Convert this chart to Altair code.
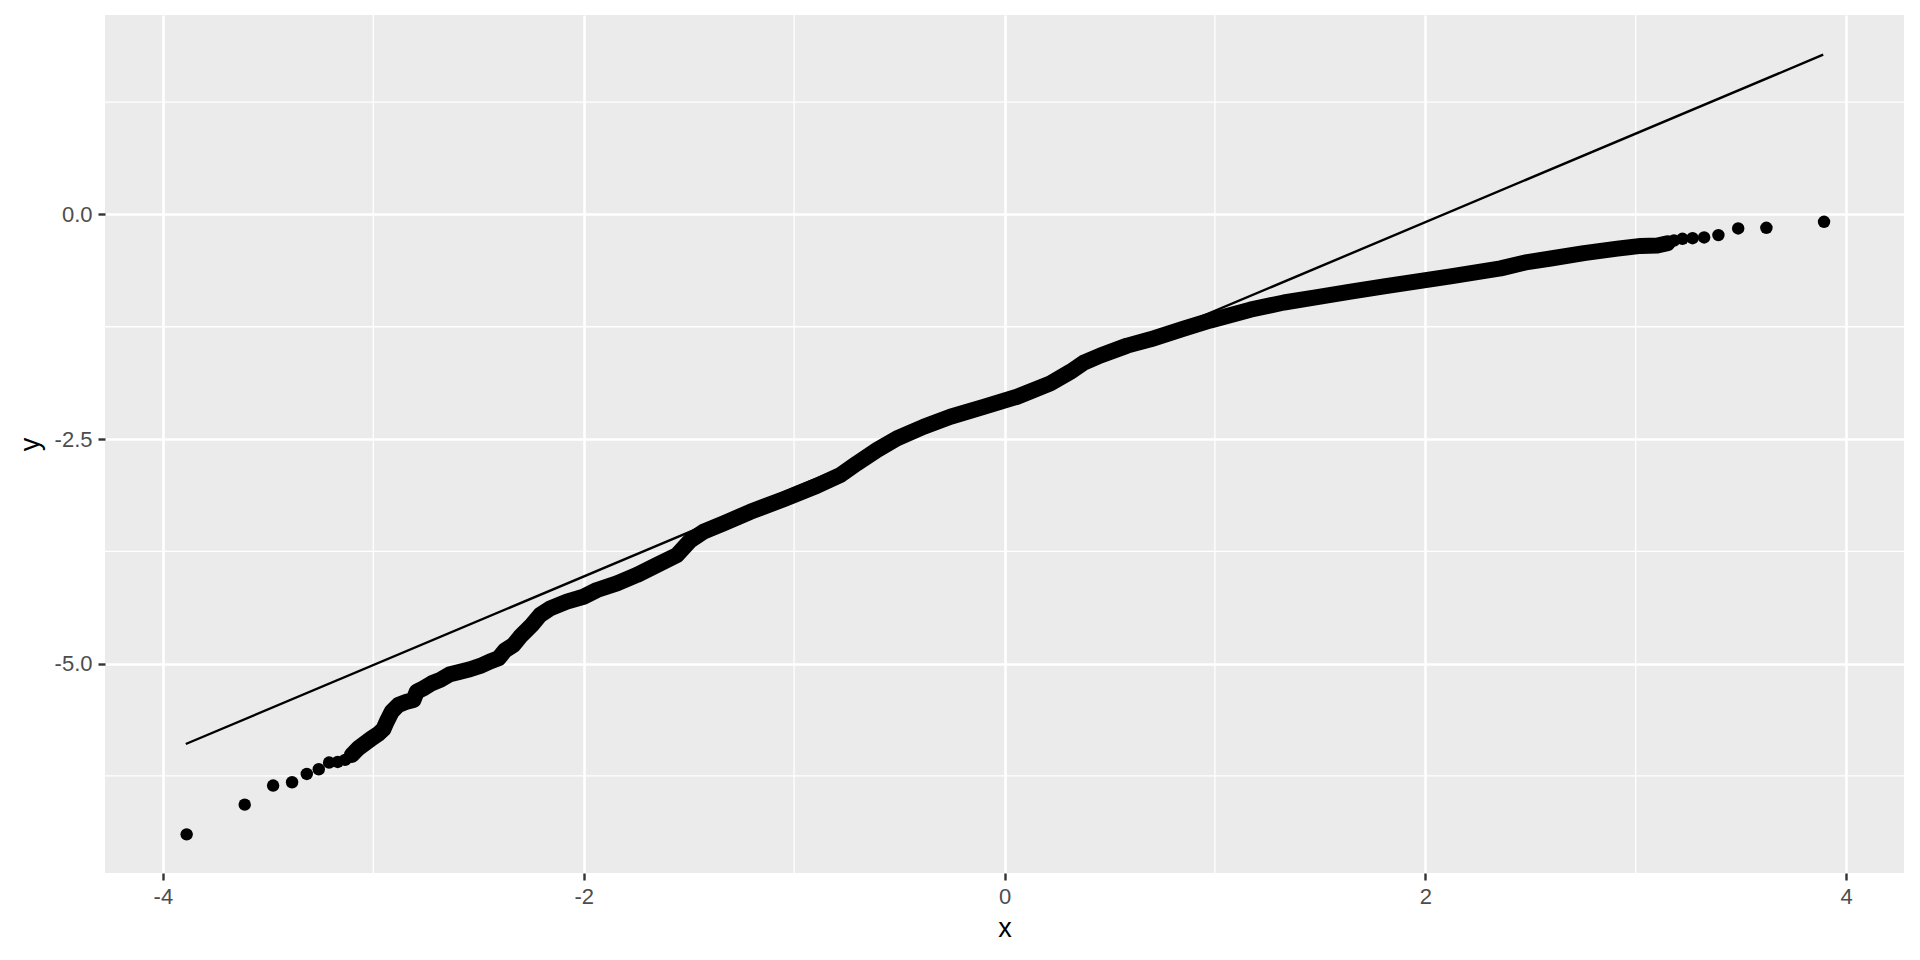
import altair as alt
import pandas as pd

# Sample quantiles (y) against theoretical quantiles (x)
tail_left_x = [-3.887, -3.611, -3.476, -3.386, -3.316, -3.259, -3.210, -3.169, -3.134]
tail_left_y = [-6.900, -6.569, -6.357, -6.320, -6.227, -6.175, -6.101, -6.094, -6.071]

band_x = [-3.102, -3.071, -3.039, -3.007, -2.976, -2.952, -2.936, -2.912, -2.881, -2.841,
          -2.809, -2.793, -2.762, -2.722, -2.682, -2.635, -2.587, -2.540, -2.492, -2.445,
          -2.405, -2.373, -2.334, -2.302, -2.246, -2.207, -2.159, -2.080, -2.001, -1.937,
          -1.842, -1.747, -1.652, -1.557, -1.494, -1.430, -1.335, -1.208, -1.050, -0.891,
          -0.780, -0.701, -0.606, -0.511, -0.384, -0.257, -0.099, 0.060, 0.218, 0.313,
          0.377, 0.456, 0.583, 0.694, 0.852, 0.979, 1.168, 1.328, 1.486, 1.645,
          1.804, 1.962, 2.120, 2.358, 2.485, 2.596, 2.754, 2.913, 3.024, 3.103,
          3.151]
band_y = [-6.016, -5.941, -5.886, -5.830, -5.782, -5.730, -5.645, -5.534, -5.460, -5.423,
          -5.404, -5.311, -5.274, -5.218, -5.181, -5.117, -5.089, -5.062, -5.025, -4.975,
          -4.940, -4.850, -4.792, -4.700, -4.569, -4.458, -4.384, -4.310, -4.255, -4.180,
          -4.106, -4.013, -3.902, -3.791, -3.630, -3.530, -3.438, -3.310, -3.170, -3.020,
          -2.901, -2.770, -2.622, -2.492, -2.363, -2.252, -2.141, -2.029, -1.880, -1.751,
          -1.650, -1.570, -1.460, -1.390, -1.270, -1.180, -1.060, -0.980, -0.920, -0.860,
          -0.800, -0.745, -0.690, -0.600, -0.530, -0.490, -0.430, -0.380, -0.350, -0.345,
          -0.320]

tail_right_x = [3.182, 3.222, 3.270, 3.325, 3.393, 3.487, 3.621, 3.895]
tail_right_y = [-0.290, -0.271, -0.264, -0.256, -0.230, -0.156, -0.149, -0.082]

# Reference (qq) line end points
ref_x = [-3.891, 3.891]
ref_y = [-5.894, 1.778]

# Axis ticks and minor grid positions
x_ticks = [-4, -2, 0, 2, 4]
y_ticks = [-5.0, -2.5, 0.0]
minor_x = [-3, -1, 1, 3]
minor_y = [-6.25, -3.75, -1.25, 1.25]

points_df = pd.DataFrame({
    "x": tail_left_x + band_x + tail_right_x,
    "y": tail_left_y + band_y + tail_right_y,
})
band_df = pd.DataFrame({"x": band_x, "y": band_y})
ref_df = pd.DataFrame({"x": ref_x, "y": ref_y})
minor_x_df = pd.DataFrame({"x": minor_x})
minor_y_df = pd.DataFrame({"y": minor_y})

FONT = "Liberation Sans"
axis_common = dict(
    grid=True, gridColor="white", gridWidth=2.6,
    domain=False, tickColor="#333333", tickWidth=2.4, tickSize=7,
    labelFont=FONT, labelFontSize=22, labelColor="#4D4D4D",
    titleFont=FONT, titleFontSize=27, titleColor="black", titleFontWeight="normal",
    labelFlush=False, labelOverlap=False, labelBound=False,
)

X = alt.X("x:Q", title="x",
          scale=alt.Scale(domain=[-4.275, 4.275], nice=False, zero=False),
          axis=alt.Axis(values=x_ticks, labelPadding=6, titlePadding=8,
                        labelExpr="'' + datum.value", **axis_common))
Y = alt.Y("y:Q", title="y",
          scale=alt.Scale(domain=[-7.33, 2.22], nice=False, zero=False),
          axis=alt.Axis(values=y_ticks, labelPadding=6, titlePadding=10,
                        labelExpr="replace(format(datum.value, '.1f'), '\u2212', '-')",
                        **axis_common))

minor_v = alt.Chart(minor_x_df).mark_rule(color="white", strokeWidth=1.3).encode(x=X)
minor_h = alt.Chart(minor_y_df).mark_rule(color="white", strokeWidth=1.3).encode(y=Y)

band = alt.Chart(band_df).mark_line(
    color="black", strokeWidth=16, strokeCap="round", strokeJoin="round"
).encode(x=X, y=Y)

pts = alt.Chart(points_df).mark_circle(size=155, color="black", opacity=1).encode(x=X, y=Y)

ref = alt.Chart(ref_df).mark_line(color="black", strokeWidth=2.4).encode(x=X, y=Y)

chart = alt.layer(minor_v, minor_h, band, pts, ref).properties(
    width=1799, height=858,
    padding={"left": 97, "top": 7, "right": 8, "bottom": 79},
    autosize=alt.AutoSizeParams(type="none"),
    background="white",
).configure_view(fill="#EBEBEB", strokeWidth=0)

chart.save("out.html", embed_options={"renderer": "svg", "actions": False})
